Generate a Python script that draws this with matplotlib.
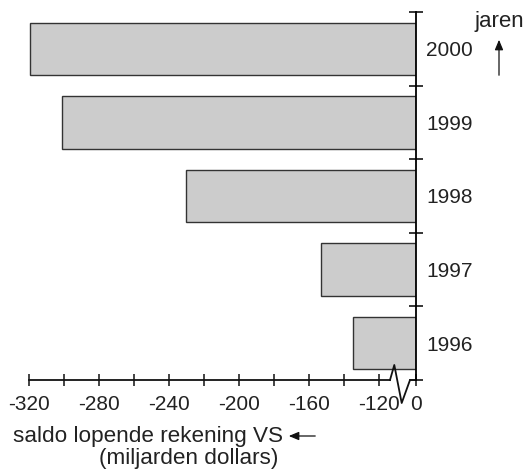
import numpy as np
import matplotlib
matplotlib.use('Agg')
from matplotlib import pyplot as plt
from matplotlib.ticker import FixedLocator, FixedFormatter, NullFormatter

plt.rcParams['font.family'] = ['Liberation Sans', 'DejaVu Sans']
plt.rcParams['axes.unicode_minus'] = False

## data
years = ['1996', '1997', '1998', '1999', '2000']
saldo = [-135, -153, -230, -301, -319]
major_ticks = [-320, -280, -240, -200, -160, -120, 0]
minor_ticks = [-300, -260, -220, -180, -140]
tick_labels = ['-320', '-280', '-240', '-200', '-160', '-120', '0']

## broken axis: everything right of -120 is squeezed
brk = -120.0
k = 21.1 / 120.0

def fwd(v):
    v = np.asarray(v, dtype=float)
    return np.where(v <= brk, v, brk + (v - brk) * k)

def inv(u):
    u = np.asarray(u, dtype=float)
    return np.where(u <= brk, u, brk + (u - brk) / k)

fig = plt.figure(figsize=(5.24, 4.70), dpi=100)
ax = fig.add_axes([28.7/524, 1 - 380/470, (415.7 - 28.7)/524, 368/470])
ax.set_xscale('function', functions=(fwd, inv))

ypos = np.arange(len(years)) + 0.5
ax.barh(ypos, saldo, height=0.71, color='#cccccc', edgecolor='#333333', linewidth=1.0, zorder=2)

ax.set_xlim(-320, 0)
ax.set_ylim(0, len(years))

## spines
for s in ['left', 'top', 'bottom']:
    ax.spines[s].set_visible(False)
ax.spines['right'].set_linewidth(1.3)
ax.spines['right'].set_zorder(3)

## x ticks
ax.xaxis.set_major_locator(FixedLocator(major_ticks))
ax.xaxis.set_major_formatter(FixedFormatter(tick_labels))
ax.xaxis.set_minor_locator(FixedLocator(minor_ticks))
ax.xaxis.set_minor_formatter(NullFormatter())
ax.tick_params(axis='x', which='both', direction='inout', length=9, width=1.1, pad=6.5,
               labelsize=15, colors='#111111', labelcolor='#222222')

## y ticks: boundaries unlabeled, labels at the bar centres
ax.yaxis.tick_right()
ax.yaxis.set_major_locator(FixedLocator(np.arange(len(years) + 1)))
ax.yaxis.set_major_formatter(NullFormatter())
ax.yaxis.set_minor_locator(FixedLocator(ypos))
ax.yaxis.set_minor_formatter(FixedFormatter(years))
ax.tick_params(axis='y', which='major', direction='inout', length=10, width=1.1)
ax.tick_params(axis='y', which='minor', length=0, pad=7.5, labelsize=15, labelcolor='#222222')

## bottom axis line with the break zigzag
lw = 1.3
ax.plot([0, 0.9336], [0, 0], transform=ax.transAxes, color='#111111', lw=lw, clip_on=False, zorder=3)
zx = [0.9336, 0.9447, 0.9638, 0.9853, 1.0]
zy = [0, 0.0408, -0.0625, 0, 0]
ax.plot(zx, zy, transform=ax.transAxes, color='#111111', lw=lw, clip_on=False, zorder=3)

## labels
fig.text(12.7/524, 1 - 442/470, 'saldo lopende rekening VS', fontsize=16.2, color='#222222',
         ha='left', va='baseline')
fig.text(278/524, 1 - 464/470, '(miljarden dollars)', fontsize=16.2, color='#222222',
         ha='right', va='baseline')
fig.text(475/524, 1 - 27/470, 'jaren', fontsize=16, color='#222222', ha='left', va='baseline')

fig.patches.append(matplotlib.patches.FancyArrowPatch(
    (318/524, 1 - 436/470), (286/524, 1 - 436/470), transform=fig.transFigure,
    arrowstyle='-|>,head_length=6,head_width=2.5', lw=0.9, color='#111111', mutation_scale=1))
fig.patches.append(matplotlib.patches.FancyArrowPatch(
    (499/524, 1 - 78/470), (499/524, 1 - 37/470), transform=fig.transFigure,
    arrowstyle='-|>,head_length=6,head_width=2.5', lw=0.9, color='#111111', mutation_scale=1))

fig.savefig('out.png', dpi=100)
